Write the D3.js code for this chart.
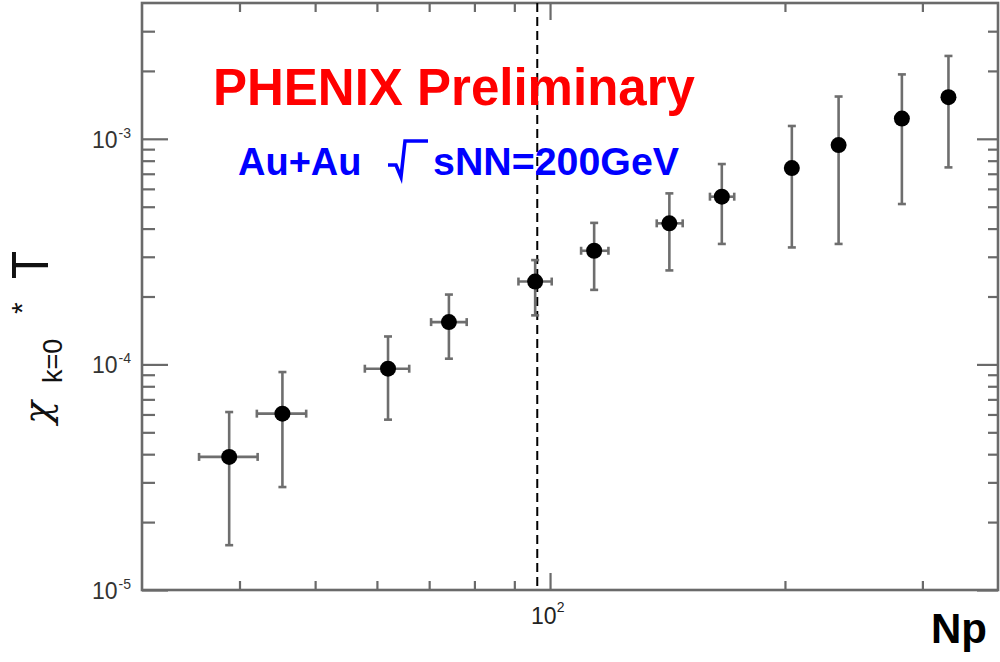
<!DOCTYPE html>
<html>
<head>
<meta charset="utf-8">
<script src="https://cdn.jsdelivr.net/npm/d3@7"></script>
<style>
  body { margin: 0; background: #fff; }
  svg { display: block; }
</style>
</head>
<body>
<svg id="chart" width="1000" height="662"></svg>
<script>
// Npart centres and horizontal error ends
const npart   = [38.8, 45.4, 62.0, 74.2, 95.7, 113.9, 142.2, 166.0, 204.1, 234.3, 282.4, 324.0];
const npartLo = [35.5, 42.1, 57.9, 70.4, 91.1, 109.6, 137.0, 160.3, 202.0, 232.0, 280.0, 321.5];
const npartHi = [42.2, 48.7, 66.0, 78.2, 100.5, 118.8, 147.9, 172.2, 206.0, 236.5, 285.0, 326.5];
// chi_{k=0} * T and vertical error ends
const chiT   = [3.89e-5, 6.05e-5, 9.57e-5, 1.54e-4, 2.33e-4, 3.19e-4, 4.22e-4, 5.54e-4, 7.42e-4, 9.38e-4, 1.23e-3, 1.53e-3];
const chiLo  = [1.58e-5, 2.86e-5, 5.69e-5, 1.06e-4, 1.65e-4, 2.14e-4, 2.61e-4, 3.42e-4, 3.30e-4, 3.42e-4, 5.14e-4, 7.47e-4];
const chiHi  = [6.15e-5, 9.25e-5, 1.33e-4, 2.04e-4, 2.90e-4, 4.24e-4, 5.73e-4, 7.73e-4, 1.14e-3, 1.54e-3, 1.93e-3, 2.33e-3];

const xMajor = [100];
const xMinor = [40, 50, 60, 70, 80, 90, 200, 300];
const yMajor = [1e-5, 1e-4, 1e-3];
const yExp   = ["-5", "-4", "-3"];
const xCut   = 96.3;

const data = npart.map((d, i) => ({
    x: d, xlo: npartLo[i], xhi: npartHi[i],
    y: chiT[i], ylo: chiLo[i], yhi: chiHi[i]
}));

const yMinor = [];
[1e-5, 1e-4, 1e-3].forEach(dec => {
    for (let k = 2; k <= 9; k++) {
        const v = dec * k;
        if (v < 4e-3) yMinor.push(v);
    }
});

const svg = d3.select("#chart");
const pLeft = 142, pRight = 998, pTop = 3, pBottom = 590;

const x = d3.scaleLog().domain([30, 375]).range([pLeft, pRight]);
const y = d3.scaleLog().domain([1e-5, 4e-3]).range([pBottom, pTop]);

const axisColor = "#6a6a6a";

function tickStyle(g) {
    g.select(".domain").remove();
    g.selectAll(".tick line").attr("stroke", axisColor).attr("stroke-width", 2.2);
}

// bottom + top ticks (inward)
svg.append("g").attr("transform", `translate(0,${pBottom})`)
    .call(d3.axisBottom(x).tickValues(xMajor).tickSize(-17).tickFormat("")).call(tickStyle);
svg.append("g").attr("transform", `translate(0,${pBottom})`)
    .call(d3.axisBottom(x).tickValues(xMinor).tickSize(-9).tickFormat("")).call(tickStyle);
svg.append("g").attr("transform", `translate(0,${pTop})`)
    .call(d3.axisTop(x).tickValues(xMajor).tickSize(-17).tickFormat("")).call(tickStyle);
svg.append("g").attr("transform", `translate(0,${pTop})`)
    .call(d3.axisTop(x).tickValues(xMinor).tickSize(-9).tickFormat("")).call(tickStyle);

// left + right ticks (inward)
svg.append("g").attr("transform", `translate(${pLeft},0)`)
    .call(d3.axisLeft(y).tickValues(yMajor).tickSize(-26).tickFormat("")).call(tickStyle);
svg.append("g").attr("transform", `translate(${pLeft},0)`)
    .call(d3.axisLeft(y).tickValues(yMinor).tickSize(-13).tickFormat("")).call(tickStyle);
svg.append("g").attr("transform", `translate(${pRight},0)`)
    .call(d3.axisRight(y).tickValues(yMajor).tickSize(-21).tickFormat("")).call(tickStyle);
svg.append("g").attr("transform", `translate(${pRight},0)`)
    .call(d3.axisRight(y).tickValues(yMinor).tickSize(-10).tickFormat("")).call(tickStyle);

// frame
svg.append("rect")
    .attr("x", pLeft).attr("y", pTop)
    .attr("width", pRight - pLeft).attr("height", pBottom - pTop)
    .attr("fill", "none").attr("stroke", axisColor).attr("stroke-width", 2.6);

// y tick labels 10^n
const yLab = svg.append("g").attr("font-family", "Liberation Sans, Arial, sans-serif").attr("fill", "#333");
yMajor.forEach((v, i) => {
    const t = yLab.append("text")
        .attr("x", 92).attr("y", y(v) + 9)
        .attr("font-size", 23);
    t.append("tspan").text("10");
    t.append("tspan").attr("dy", -10).attr("dx", 1).attr("font-size", 14).text(yExp[i]);
});

// x tick label 10^2
const xl = svg.append("text")
    .attr("x", x(100) - 19).attr("y", 624)
    .attr("font-family", "Liberation Sans, Arial, sans-serif")
    .attr("font-size", 23).attr("fill", "#222");
xl.append("tspan").text("10");
xl.append("tspan").attr("dy", -12).attr("font-size", 14).text("2");

// x title
svg.append("text")
    .attr("x", 987).attr("y", 643)
    .attr("text-anchor", "end")
    .attr("font-family", "Liberation Sans, Arial, sans-serif")
    .attr("font-weight", "bold").attr("font-size", 42)
    .text("Np");

// y title, rotated
const yt = svg.append("g").attr("transform", "rotate(-90)")
    .attr("font-family", "Liberation Sans, Arial, sans-serif").attr("fill", "#111");
yt.append("text").attr("x", -424).attr("y", 50)
    .attr("font-family", "DejaVu Serif, serif").attr("font-style", "italic")
    .attr("font-size", 38).text("χ");
yt.append("text").attr("x", -383).attr("y", 62)
    .attr("font-size", 27).text("k=0");
yt.append("text").attr("x", -314).attr("y", 32)
    .attr("font-size", 30).text("*");
yt.append("text").attr("x", -279).attr("y", 48)
    .attr("font-size", 52).attr("textLength", 28).attr("lengthAdjust", "spacingAndGlyphs")
    .text("T");

// dashed cut line
svg.append("line")
    .attr("x1", x(xCut)).attr("x2", x(xCut))
    .attr("y1", pTop).attr("y2", pBottom)
    .attr("stroke", "#000").attr("stroke-width", 2)
    .attr("stroke-dasharray", "9,5");

// annotations
svg.append("text")
    .attr("x", 213).attr("y", 105)
    .attr("font-family", "Liberation Sans, Arial, sans-serif")
    .attr("font-weight", "bold").attr("font-size", 51)
    .attr("fill", "#ff0000")
    .text("PHENIX Preliminary");

const sub = svg.append("g")
    .attr("font-family", "Liberation Sans, Arial, sans-serif")
    .attr("font-weight", "bold").attr("fill", "#0000ff");
sub.append("text").attr("x", 238).attr("y", 175).attr("font-size", 38).text("Au+Au");
// hand-drawn radical as in ROOT's #sqrt
sub.append("path")
    .attr("d", "M388,165 L396,165 L401,177 L405,141 L428,141")
    .attr("fill", "none").attr("stroke", "#0000ff").attr("stroke-width", 3.5)
    .attr("stroke-linejoin", "miter");
sub.append("text").attr("x", 433).attr("y", 175).attr("font-size", 38)
    .attr("textLength", 246).attr("lengthAdjust", "spacingAndGlyphs")
    .text("sNN=200GeV");

// error bars
const errColor = "#6e6e6e";
const pts = svg.append("g");
pts.selectAll(".ey").data(data).enter().append("line")
    .attr("x1", d => x(d.x)).attr("x2", d => x(d.x))
    .attr("y1", d => y(d.ylo)).attr("y2", d => y(d.yhi))
    .attr("stroke", errColor).attr("stroke-width", 2.6);
pts.selectAll(".ex").data(data).enter().append("line")
    .attr("x1", d => x(d.xlo)).attr("x2", d => x(d.xhi))
    .attr("y1", d => y(d.y)).attr("y2", d => y(d.y))
    .attr("stroke", errColor).attr("stroke-width", 2.6);
// caps
["ylo", "yhi"].forEach(k => {
    pts.selectAll(".c" + k).data(data).enter().append("line")
        .attr("x1", d => x(d.x) - 4).attr("x2", d => x(d.x) + 4)
        .attr("y1", d => y(d[k])).attr("y2", d => y(d[k]))
        .attr("stroke", errColor).attr("stroke-width", 2.6);
});
["xlo", "xhi"].forEach(k => {
    pts.selectAll(".c" + k).data(data).enter().append("line")
        .attr("x1", d => x(d[k])).attr("x2", d => x(d[k]))
        .attr("y1", d => y(d.y) - 4).attr("y2", d => y(d.y) + 4)
        .attr("stroke", errColor).attr("stroke-width", 2.6);
});

pts.selectAll("circle").data(data).enter().append("circle")
    .attr("cx", d => x(d.x)).attr("cy", d => y(d.y))
    .attr("r", 8).attr("fill", "#000");
</script>
</body>
</html>
